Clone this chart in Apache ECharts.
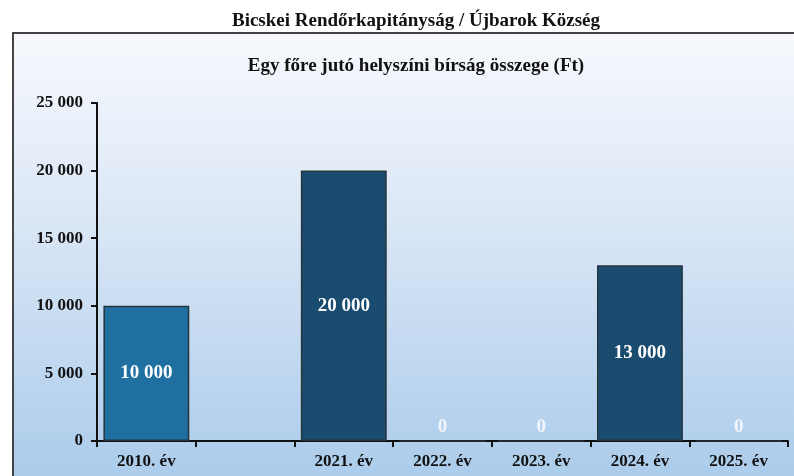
<!DOCTYPE html>
<html>
	<head>
		<meta charset="utf-8" />
		<title></title>
		<script type="text/javascript" src="https://cdn.jsdelivr.net/npm/echarts@6/dist/echarts.min.js"></script>
		<style>
			html, body { margin: 0; padding: 0; background: #fff; }
		</style>
	</head>
	<body>
		<div id="chart" style="width: 794px;height:476px;"></div>
	</body>
</html>
<script type="text/javascript">
	var categories = ["2010. év", "", "2021. év", "2022. év", "2023. év", "2024. év", "2025. év"];
	var values = [10000, null, 20000, 0, 0, 13000, 0];
	var barColors = ["#1f70a1", null, "#1a4c70", "#1a4c70", "#1a4c70", "#1a4c70", "#1a4c70"];
	var yTicks = [0, 5000, 10000, 15000, 20000, 25000];

	var serif = "'Liberation Serif', 'DejaVu Serif', serif";

	function fmt(v) {
		return String(v).replace(/\B(?=(\d{3})+(?!\d))/g, " ");
	}

	var chart = echarts.init(document.getElementById("chart"));
	chart.setOption({
		backgroundColor: "#ffffff",
		animation: false,
		title: [{
			text: "Bicskei Rendőrkapitányság / Újbarok Község",
			left: 411,
			top: 7,
			textAlign: "center",
			textStyle: { fontFamily: serif, fontSize: 19, fontWeight: "bold", color: "#111" }
		}, {
			text: "Egy főre jutó helyszíni bírság összege (Ft)",
			left: 411,
			top: 52,
			textAlign: "center",
			textStyle: { fontFamily: serif, fontSize: 19, fontWeight: "bold", color: "#111" }
		}],
		graphic: [{
			type: "rect",
			z: -10,
			shape: { x: 13, y: 33, width: 800, height: 460 },
			style: {
				fill: new echarts.graphic.LinearGradient(0, 0, 0, 1, [
					{ offset: 0, color: "#f7f9fd" },
					{ offset: 0.4, color: "#dbe7f6" },
					{ offset: 1, color: "#a8caea" }
				]),
				stroke: "#444",
				lineWidth: 2
			}
		}],
		grid: { left: 97, right: 6, top: 103, bottom: 35 },
		xAxis: {
			type: "category",
			data: categories,
			axisLine: { lineStyle: { color: "#111", width: 2 } },
			axisTick: { show: true, length: 6, lineStyle: { color: "#111", width: 2 } },
			axisLabel: { fontFamily: serif, fontSize: 17, fontWeight: "bold", color: "#111", margin: 12, interval: 0 }
		},
		yAxis: {
			type: "value",
			min: 0,
			max: yTicks[yTicks.length - 1],
			interval: yTicks[1] - yTicks[0],
			splitLine: { show: false },
			axisLine: { show: true, lineStyle: { color: "#111", width: 2 } },
			axisTick: { show: true, length: 6, lineStyle: { color: "#111", width: 2 } },
			axisLabel: {
				fontFamily: serif, fontSize: 17, fontWeight: "bold", color: "#111", margin: 14,
				formatter: function (v) { return fmt(v); }
			}
		},
		series: [{
			type: "bar",
			barWidth: "87%",
			data: values.map(function (v, i) {
				if (v === null) return v;
				var item = {
					value: v,
					itemStyle: { color: barColors[i], borderColor: "#26343c", borderWidth: 1.5 }
				};
				if (v === 0) item.label = { position: "top", distance: 4, color: "#f2f6fb" };
				return item;
			}),
			label: {
				show: true,
				position: "inside",
				color: "#ffffff",
				fontFamily: serif,
				fontSize: 19,
				fontWeight: "bold",
				formatter: function (p) { return fmt(p.value); }
			}
		}]
	});
</script>
